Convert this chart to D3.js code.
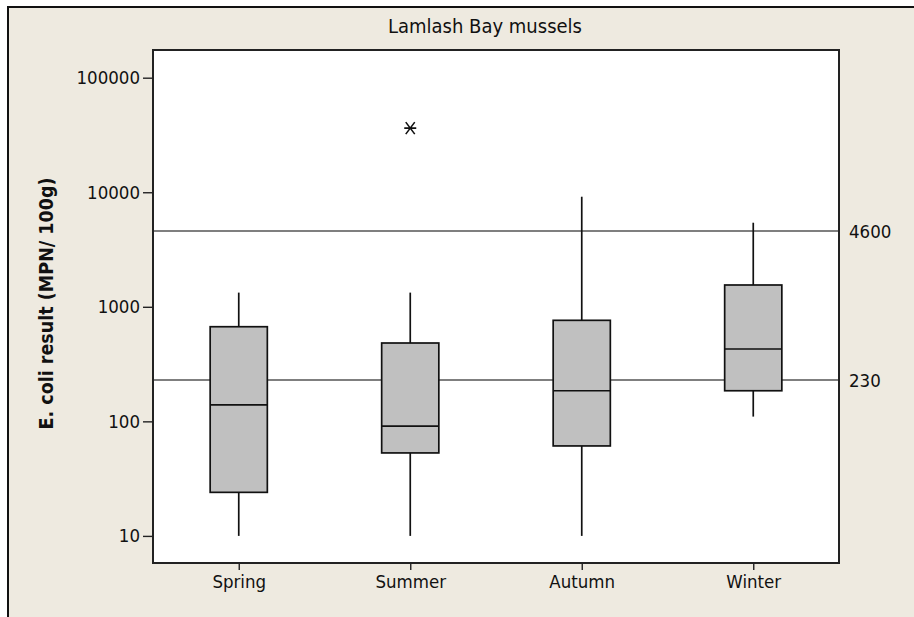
<!DOCTYPE html>
<html>
<head>
<meta charset="utf-8">
<script src="https://cdn.jsdelivr.net/npm/d3@7"></script>
<style>
  html, body { margin: 0; padding: 0; background: #fff; }
  svg text { font-family: 'DejaVu Sans Condensed', 'DejaVu Sans', sans-serif; font-stretch: condensed; fill: #111; }
</style>
</head>
<body>
<svg id="chart" width="914" height="617"></svg>
<script>
const title = "Lamlash Bay mussels";
const yLabel = "E. coli result (MPN/ 100g)";
const categories = ["Spring", "Summer", "Autumn", "Winter"];
const whiskerLow  = [10, 10, 10, 110];
const q1          = [24, 53, 61, 185];
const median      = [139, 91, 185, 428];
const q3          = [670, 483, 762, 1550];
const whiskerHigh = [1330, 1330, 9140, 5420];
const outlierCats   = ["Summer"];
const outlierValues = [36300];
const refLines  = [4600, 230];
const yTicks    = [10, 100, 1000, 10000, 100000];
const yDomain   = [5.8, 174500];

const W = 914, H = 617;
const plot = {left: 153, top: 50, right: 839, bottom: 563};
const svg = d3.select("#chart");

// outer panel (only top and left edges visible)
svg.append("rect").attr("x", 8).attr("y", 7).attr("width", W + 20).attr("height", H + 20)
  .attr("fill", "#EEEAE0").attr("stroke", "#111").attr("stroke-width", 2);

// plot area
svg.append("rect").attr("x", plot.left).attr("y", plot.top)
  .attr("width", plot.right - plot.left).attr("height", plot.bottom - plot.top)
  .attr("fill", "#fff");

const x = d3.scalePoint().domain(categories).range([plot.left, plot.right]).padding(0.5);
const y = d3.scaleLog().domain(yDomain).range([plot.bottom, plot.top]);
const boxW = x.step() / 3;

// reference lines
const ref = svg.append("g");
refLines.forEach(v => {
  ref.append("line").attr("x1", plot.left).attr("x2", plot.right)
    .attr("y1", y(v)).attr("y2", y(v)).attr("stroke", "#555").attr("stroke-width", 1.5);
  ref.append("text").attr("x", plot.right + 10).attr("y", y(v)).attr("dy", "0.36em")
    .attr("font-size", 18.5).text(String(v));
});

// boxes
const g = svg.append("g");
const sw = 1.7;
categories.forEach((c, i) => {
  const cx = x(c);
  g.append("line").attr("x1", cx).attr("x2", cx).attr("y1", y(whiskerLow[i])).attr("y2", y(q1[i]))
    .attr("stroke", "#111").attr("stroke-width", sw);
  g.append("line").attr("x1", cx).attr("x2", cx).attr("y1", y(q3[i])).attr("y2", y(whiskerHigh[i]))
    .attr("stroke", "#111").attr("stroke-width", sw);
  g.append("rect").attr("x", cx - boxW / 2).attr("width", boxW)
    .attr("y", y(q3[i])).attr("height", y(q1[i]) - y(q3[i]))
    .attr("fill", "#C0C0C0").attr("stroke", "#111").attr("stroke-width", sw);
  g.append("line").attr("x1", cx - boxW / 2).attr("x2", cx + boxW / 2)
    .attr("y1", y(median[i])).attr("y2", y(median[i])).attr("stroke", "#111").attr("stroke-width", sw);
});

// outliers (asterisk)
outlierCats.forEach((c, i) => {
  const cx = x(c), cy = y(outlierValues[i]), r = 6;
  const p = `M${cx - r},${cy}L${cx + r},${cy}` +
            `M${cx - r * 0.75},${cy - r}L${cx + r * 0.75},${cy + r}` +
            `M${cx + r * 0.75},${cy - r}L${cx - r * 0.75},${cy + r}`;
  svg.append("path").attr("d", p).attr("stroke", "#111").attr("stroke-width", 1.6).attr("fill", "none");
});

// plot border
svg.append("rect").attr("x", plot.left).attr("y", plot.top)
  .attr("width", plot.right - plot.left).attr("height", plot.bottom - plot.top)
  .attr("fill", "none").attr("stroke", "#222").attr("stroke-width", 2);

// y axis
const yAxis = svg.append("g").attr("transform", `translate(${plot.left},0)`)
  .call(d3.axisLeft(y).tickValues(yTicks).tickFormat(d3.format("d")).tickSize(10).tickPadding(3));
yAxis.select(".domain").remove();
yAxis.selectAll("line").attr("stroke", "#222").attr("stroke-width", 1.4);
yAxis.selectAll("text").attr("font-size", 18.5).style("font-family", null);

// x axis
const xAxis = svg.append("g").attr("transform", `translate(0,${plot.bottom})`)
  .call(d3.axisBottom(x).tickSize(7).tickPadding(5));
xAxis.select(".domain").remove();
xAxis.selectAll("line").attr("stroke", "#222").attr("stroke-width", 1.4);
xAxis.selectAll("text").attr("font-size", 18.5).style("font-family", null);

// title
svg.append("text").attr("x", 485).attr("y", 33).attr("text-anchor", "middle")
  .attr("font-size", 20).text(title);

// y label
svg.append("text").attr("transform", `translate(53,${(plot.top + plot.bottom) / 2 - 3}) rotate(-90)`)
  .attr("text-anchor", "middle").attr("font-size", 19.5).attr("font-weight", "bold").text(yLabel);
</script>
</body>
</html>
